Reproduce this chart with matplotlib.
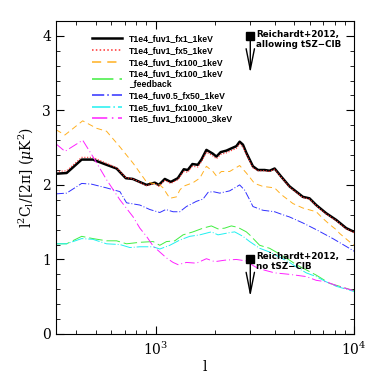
import numpy as np
import matplotlib
matplotlib.use("Agg")
import matplotlib.pyplot as plt

# значения (l, l^2 C_l / 2pi в мкК^2)
l_fx1 = [316, 357, 425, 484, 567, 637, 709, 769, 901, 992, 1039, 1114, 1194, 1295, 1388,
         1453, 1534, 1632, 1703, 1804, 1941, 2026, 2129, 2274, 2409, 2553, 2652, 2755, 2866,
         3092, 3279, 3541, 3751, 3977, 4297, 4729, 5110, 5516, 5957, 6441, 7230, 8120, 9120, 10000]
y_fx1 = [2.15, 2.16, 2.34, 2.34, 2.27, 2.22, 2.09, 2.08, 2.00, 2.03, 2.00, 2.08, 2.04, 2.09, 2.21,
         2.20, 2.28, 2.27, 2.34, 2.47, 2.42, 2.38, 2.44, 2.46, 2.49, 2.52, 2.58, 2.54, 2.43,
         2.25, 2.20, 2.20, 2.19, 2.22, 2.11, 1.98, 1.91, 1.84, 1.82, 1.73, 1.62, 1.53, 1.42, 1.37]
y_fx5 = [2.18, 2.19, 2.37, 2.37, 2.29, 2.23, 2.10, 2.08, 1.99, 2.02, 1.98, 2.06, 2.02, 2.07, 2.18,
         2.17, 2.25, 2.24, 2.31, 2.44, 2.39, 2.35, 2.41, 2.43, 2.46, 2.49, 2.55, 2.51, 2.41,
         2.23, 2.19, 2.19, 2.18, 2.21, 2.10, 1.97, 1.90, 1.83, 1.81, 1.72, 1.61, 1.52, 1.41, 1.36]

l_fx100 = [316, 350, 430, 505, 567, 662, 772, 901, 1051, 1092, 1180, 1275, 1325, 1376, 1545,
           1670, 1804, 1947, 2026, 2146, 2361, 2652, 2866, 3151, 3470, 3977, 4297, 4918, 5516,
           6441, 6960, 7520, 8120, 8440, 9450, 10000]
y_fx100 = [2.74, 2.67, 2.86, 2.76, 2.72, 2.51, 2.29, 2.04, 2.00, 1.96, 1.82, 1.84, 1.93, 1.98, 2.03,
           2.09, 2.25, 2.18, 2.12, 2.18, 2.18, 2.26, 2.16, 2.02, 1.98, 1.96, 1.87, 1.75, 1.69,
           1.64, 1.55, 1.47, 1.40, 1.35, 1.24, 1.19]

l_fb = [316, 357, 425, 484, 567, 637, 715, 834, 973, 1051, 1136, 1250, 1376, 1545, 1735, 1911,
        2063, 2229, 2409, 2600, 2866, 2978, 3343, 3751, 4297, 4729, 5110, 5739, 6441, 7510, 8440, 10000]
y_fb = [1.21, 1.21, 1.31, 1.28, 1.25, 1.25, 1.21, 1.23, 1.24, 1.19, 1.24, 1.25, 1.33, 1.37, 1.42, 1.45,
        1.41, 1.42, 1.45, 1.43, 1.37, 1.33, 1.19, 1.15, 1.06, 0.99, 0.93, 0.86, 0.79, 0.68, 0.64, 0.58]

l_fuv05 = [316, 357, 425, 477, 567, 662, 715, 834, 936, 1051, 1127, 1226, 1325, 1431, 1607, 1735,
           1839, 1947, 2104, 2361, 2652, 2809, 2978, 3093, 3470, 3977, 4372, 4729, 5516, 6441, 7809, 9450, 10000]
y_fuv05 = [1.88, 1.89, 2.02, 2.01, 1.96, 1.91, 1.76, 1.73, 1.67, 1.63, 1.67, 1.64, 1.64, 1.71, 1.78, 1.81,
           1.90, 1.91, 1.89, 1.92, 2.00, 1.93, 1.80, 1.71, 1.66, 1.64, 1.60, 1.57, 1.49, 1.40, 1.28, 1.15, 1.11]

l_1e5 = [316, 357, 425, 484, 567, 662, 743, 834, 973, 1051, 1180, 1325, 1487, 1670, 1911, 2063,
         2361, 2503, 2755, 2978, 3343, 3751, 4297, 4729, 5110, 5739, 6441, 7230, 8120, 10000]
y_1e5 = [1.21, 1.21, 1.28, 1.27, 1.21, 1.20, 1.16, 1.17, 1.17, 1.14, 1.19, 1.26, 1.31, 1.33, 1.37, 1.33,
         1.36, 1.37, 1.31, 1.24, 1.15, 1.10, 1.02, 0.96, 0.90, 0.82, 0.77, 0.70, 0.64, 0.57]

l_3kev = [316, 350, 430, 484, 567, 662, 772, 834, 901, 973, 1051, 1136, 1226, 1299, 1431, 1607,
          1804, 1986, 2229, 2553, 2866, 3092, 3279, 3977, 4729, 5739, 6441, 7230, 8120, 9120, 10000]
y_3kev = [2.55, 2.45, 2.60, 2.38, 2.07, 1.80, 1.57, 1.42, 1.31, 1.18, 1.10, 1.02, 0.96, 0.93, 0.96, 0.95,
          1.01, 0.97, 0.99, 1.00, 0.98, 0.92, 0.88, 0.82, 0.80, 0.77, 0.72, 0.70, 0.65, 0.61, 0.58]

# верхние пределы Reichardt+2012
lim_l = 3000
lim_allow = 4.0
lim_no = 1.0
lim_len = 0.5

plt.rcParams['mathtext.fontset'] = 'dejavuserif'

fig = plt.figure(figsize=(3.74, 3.74), dpi=100)
ax = fig.add_axes([0.15, 0.107, 0.797, 0.837])

ax.plot(l_fx1, y_fx1, color='black', lw=1.8, label='T1e4_fuv1_fx1_1keV')
ax.plot(l_fx1, y_fx5, color='#ff3030', lw=0.8, ls=(0, (1, 1.5)), label='T1e4_fuv1_fx5_1keV')
ax.plot(l_fx100, y_fx100, color='#ffb020', lw=0.7, ls=(0, (6, 4)), label='T1e4_fuv1_fx100_1keV')
ax.plot(l_fb, y_fb, color='#40ee40', lw=0.7, ls=(0, (14, 4)), label='T1e4_fuv1_fx100_1keV\n_feedback')
ax.plot(l_fuv05, y_fuv05, color='#3030ff', lw=0.7, ls=(0, (8, 2, 1, 2)), label='T1e4_fuv0.5_fx50_1keV')
ax.plot(l_1e5, y_1e5, color='#20f0f0', lw=0.7, ls=(0, (12, 2, 1, 2)), label='T1e5_fuv1_fx100_1keV')
ax.plot(l_3kev, y_3kev, color='#ff20ff', lw=0.7, ls=(0, (10, 3, 1, 3)), label='T1e5_fuv1_fx10000_3keV')

for y0 in [lim_allow, lim_no]:
    ax.plot([lim_l], [y0], 's', color='black', ms=6)
    ax.annotate('', xy=(lim_l, y0 - lim_len), xytext=(lim_l, y0),
                arrowprops=dict(arrowstyle='->,head_length=1.5,head_width=0.3',
                                lw=1.0, color='black', shrinkA=0, shrinkB=0))

ax.text(3200, 4.08, 'Reichardt+2012,\nallowing tSZ\u2212CIB', fontsize=6.3, fontweight='bold',
        family='DejaVu Sans', va='top', ha='left', linespacing=1.15)
ax.text(3200, 1.10, 'Reichardt+2012,\nno tSZ\u2212CIB', fontsize=6.3, fontweight='bold',
        family='DejaVu Sans', va='top', ha='left', linespacing=1.15)

ax.set_xscale('log')
ax.set_xlim(316, 10000)
ax.set_ylim(0, 4.2)
ax.set_yticks([0, 1, 2, 3, 4])
ax.set_yticks(np.arange(0, 4.21, 0.2), minor=True)
ax.tick_params(which='both', direction='in', top=True, right=True, labelsize=10)
ax.tick_params(which='major', length=6)
ax.tick_params(which='minor', length=3)
ax.tick_params(axis='x', pad=5)
for lab in ax.get_xticklabels() + ax.get_yticklabels():
    lab.set_family('DejaVu Serif')

ax.set_xlabel('l', family='DejaVu Serif', fontsize=10, labelpad=1)
ax.set_ylabel(r'$\mathrm{l^2C_l/[2\pi]}$ $(\mu\mathrm{K}^2)$', fontsize=10)

leg = ax.legend(loc='upper left', bbox_to_anchor=(0.12, 0.957), frameon=False,
                prop={'family': 'Liberation Sans', 'weight': 'bold', 'size': 6.2},
                handlelength=3.5, handletextpad=0.8,
                labelspacing=0.3, borderpad=0, borderaxespad=0)
# линии в легенде потолще, как в оригинале
for h in leg.get_lines()[1:]:
    h.set_linewidth(1.1)

plt.savefig('out.png', dpi=100)
plt.close()
